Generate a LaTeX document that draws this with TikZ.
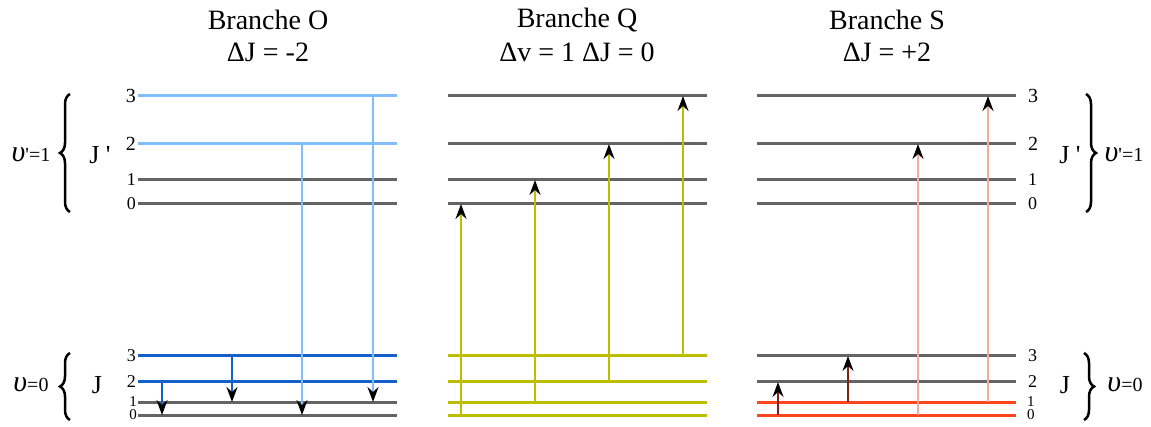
\documentclass[tikz,border=0pt]{standalone}
\usepackage{fontspec}
\setmainfont{Liberation Serif}
\newfontfamily\tickfont{Liberation Serif}
\usetikzlibrary{arrows.meta,decorations.pathreplacing}
\definecolor{levgray}{RGB}{100,100,100}
\definecolor{lblue}{RGB}{128,190,255}
\definecolor{dblue}{RGB}{20,95,200}
\definecolor{olive}{RGB}{190,190,0}
\definecolor{ored}{RGB}{255,69,30}
\definecolor{dred}{RGB}{130,30,20}
\definecolor{salmon}{RGB}{245,170,155}
\tikzset{
  level/.style={line width=3pt},
  trans/.style={-{Stealth[length=15pt,width=11pt,inset=5pt,black]},line width=2pt},
  curly/.style={decorate,decoration={brace,amplitude=10pt},line width=2.5pt},
  title/.style={font=\fontsize{28}{32}\selectfont},
  jnum/.style={font=\fontsize{20}{22}\selectfont,inner sep=2pt},
  jsmall/.style={font=\fontsize{18}{18}\selectfont,inner sep=2pt},
  jtiny/.style={font=\fontsize{15}{15}\selectfont,inner sep=1pt},
  jlab/.style={font=\fontsize{26}{30}\selectfont}
}
\newcommand{\tk}{{\tickfont'}}
\newcommand{\vlab}[1]{{\fontsize{30}{30}\selectfont\itshape υ}{\fontsize{20}{20}\selectfont #1}}

\begin{document}
\begin{tikzpicture}[x=1pt,y=-1pt]
    \useasboundingbox (0,0) rectangle (1151,427);
    % level heights
    \foreach \n/\y in {u0/204,u1/180,u2/144,u3/96,l0/415,l1/402,l2/382,l3/356}
      \coordinate (\n) at (0,\y);
    \foreach \p/\x in {O/138,Q/448,S/757}
      \foreach \n in {u0,u1,u2,u3,l0,l1,l2,l3}
        \coordinate (\p-\n) at (\x,0 |- \n);
    % levels
    \foreach \p/\n/\c in {O/u3/lblue,O/u2/lblue,O/u1/levgray,O/u0/levgray,
        O/l3/dblue,O/l2/dblue,O/l1/levgray,O/l0/levgray,
        Q/u3/levgray,Q/u2/levgray,Q/u1/levgray,Q/u0/levgray,
        Q/l3/olive,Q/l2/olive,Q/l1/olive,Q/l0/olive,
        S/u3/levgray,S/u2/levgray,S/u1/levgray,S/u0/levgray,
        S/l3/levgray,S/l2/levgray,S/l1/ored,S/l0/ored}
      \draw[level,\c] (\p-\n) -- ++(259,0) coordinate (\p-\n-e);
    % transitions
    \foreach \x/\a/\b/\c in {162/l2/l0/dblue,232/l3/l1/dblue,302/u2/l0/lblue,373/u3/l1/lblue,
        461/l0/u0/olive,535/l1/u1/olive,609/l2/u2/olive,683/l3/u3/olive,
        778/l0/l2/dred,848/l1/l3/dred,918/l0/u2/salmon,988/l1/u3/salmon}
      \draw[trans,\c] (\x,0 |- \a) -- (\x,0 |- \b);
    % J numbers
    \foreach \n/\j/\s in {u3/3/jnum,u2/2/jnum,u1/1/jsmall,u0/0/jsmall,l3/3/jsmall,l2/2/jsmall,l1/1/jtiny,l0/0/jtiny}{
      \node[\s,left] (nl-\n) at (O-\n) {\j};
      \node[\s,right,xshift=10pt] (nr-\n) at (S-\n-e) {\j};
    }
    % braces
    \draw[curly] (70,212) -- (70,94);
    \draw[curly] (70,420) -- (70,353);
    \draw[curly] (1086,94) -- (1086,212);
    \draw[curly] (1084,353) -- (1084,420);
    \node[jlab] (jul) at (100,155) {J \tk};
    \node[jlab] (jll) at (97,385) {J};
    \node[jlab] (jur) at (1070,155) {J \tk};
    \node[jlab] (jlr) at (1065,385) {J};
    \node (vul) at (31,155) {\vlab{\tk=1}};
    \node (vll) at (31,385) {\vlab{=0}};
    \node (vur) at (1124,155) {\vlab{\tk=1}};
    \node (vlr) at (1125,385) {\vlab{=0}};
    % titles
    \node[title] (tO) at (268,20) {Branche O};
    \node[title] (dO) at (268,52) {ΔJ = -2};
    \node[title] (tQ) at (577,20) {Branche Q};
    \node[title] (dQ) at (577,52) {Δv = 1 ΔJ = 0};
    \node[title] (tS) at (887,20) {Branche S};
    \node[title] (dS) at (887,52) {ΔJ = +2};
  \end{tikzpicture}
\end{document}
